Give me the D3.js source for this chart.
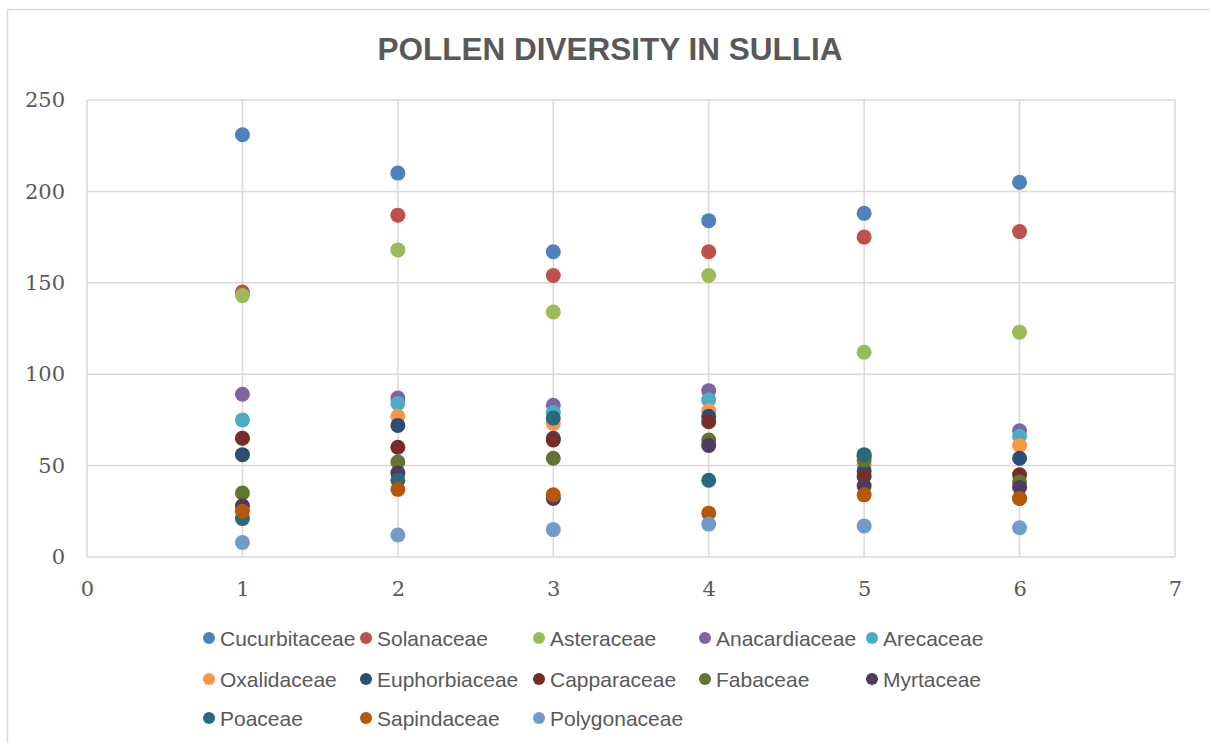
<!DOCTYPE html>
<html>
<head>
<meta charset="utf-8">
<script src="https://cdn.jsdelivr.net/npm/d3@7"></script>
<style>
  html, body { margin: 0; padding: 0; background: #fff; }
  svg { display: block; }
</style>
</head>
<body>
<svg id="chart" width="1210" height="743"></svg>
<script>
// Sampling sites along the x axis
const sites = [1, 2, 3, 4, 5, 6];

// Pollen counts per family at each site
const cucurbitaceae = [231, 210, 167, 184, 188, 205];
const solanaceae    = [145, 187, 154, 167, 175, 178];
const asteraceae    = [143, 168, 134, 154, 112, 123];
const anacardiaceae = [89, 87, 83, 91, 55, 69];
const arecaceae     = [75, 84, 79, 86, 55, 66];
const oxalidaceae   = [65, 77, 73, 80, 50, 61];
const euphorbiaceae = [56, 72, 65, 77, 47, 54];
const capparaceae   = [65, 60, 64, 74, 44, 45];
const fabaceae      = [35, 52, 54, 64, 53, 41];
const myrtaceae     = [28, 46, 32, 61, 39, 38];
const poaceae       = [21, 42, 76, 42, 56, 32];
const sapindaceae   = [25, 37, 34, 24, 34, 32];
const polygonaceae  = [8, 12, 15, 18, 17, 16];

const seriesNames = ["Cucurbitaceae", "Solanaceae", "Asteraceae", "Anacardiaceae", "Arecaceae",
  "Oxalidaceae", "Euphorbiaceae", "Capparaceae", "Fabaceae", "Myrtaceae",
  "Poaceae", "Sapindaceae", "Polygonaceae"];
const seriesValues = [cucurbitaceae, solanaceae, asteraceae, anacardiaceae, arecaceae,
  oxalidaceae, euphorbiaceae, capparaceae, fabaceae, myrtaceae,
  poaceae, sapindaceae, polygonaceae];
const seriesColors = ["#4F81BD", "#C0504D", "#9BBB59", "#8064A2", "#4BACC6",
  "#F79646", "#2C4D75", "#772C2A", "#5F7530", "#4D3B62",
  "#276A7C", "#B65708", "#729ACA"];

const xTicks = [0, 1, 2, 3, 4, 5, 6, 7];
const yTicks = [0, 50, 100, 150, 200, 250];

const series = seriesNames.map((name, i) => ({
  name, color: seriesColors[i],
  points: sites.map((s, j) => ({ x: s, y: seriesValues[i][j] }))
}));

const svg = d3.select("#chart");
const textColor = "#595959";
const gridColor = "#d9d9d9";

// Outer chart frame
svg.append("rect")
  .attr("x", 7.5).attr("y", 9.5).attr("width", 1210).attr("height", 760)
  .attr("fill", "#fff").attr("stroke", "#d9d9d9").attr("stroke-width", 1.5);

// Title
svg.append("text")
  .attr("x", 610).attr("y", 60)
  .attr("text-anchor", "middle")
  .attr("font-family", "Arial, 'Liberation Sans', sans-serif")
  .attr("font-weight", "bold")
  .attr("font-size", 31.5)
  .attr("fill", textColor)
  .text("POLLEN DIVERSITY IN SULLIA");

const plot = { left: 87, right: 1175, top: 100, bottom: 557 };
const x = d3.scaleLinear().domain([0, 7]).range([plot.left, plot.right]);
const y = d3.scaleLinear().domain([0, 250]).range([plot.bottom, plot.top]);

// Gridlines
const grid = svg.append("g");
grid.selectAll("line.h").data(yTicks).join("line")
  .attr("x1", plot.left).attr("x2", plot.right)
  .attr("y1", d => y(d)).attr("y2", d => y(d))
  .attr("stroke", gridColor).attr("stroke-width", 1.5);
grid.selectAll("line.v").data(xTicks).join("line")
  .attr("y1", plot.top).attr("y2", plot.bottom)
  .attr("x1", d => x(d)).attr("x2", d => x(d))
  .attr("stroke", gridColor).attr("stroke-width", 1.5);

// Axes (labels only, lines come from the grid)
const tickFont = "'Century Schoolbook', 'DejaVu Serif', serif";
const yAxis = svg.append("g")
  .attr("transform", `translate(${plot.left},0)`)
  .call(d3.axisLeft(y).tickValues(yTicks).tickFormat(d3.format("d")).tickSize(0).tickPadding(22));
const xAxis = svg.append("g")
  .attr("transform", `translate(0,${plot.bottom})`)
  .call(d3.axisBottom(x).tickValues(xTicks).tickFormat(d3.format("d")).tickSize(0).tickPadding(24));
[xAxis, yAxis].forEach(a => {
  a.select(".domain").remove();
  a.selectAll("text")
    .attr("font-family", tickFont)
    .attr("font-size", 21)
    .attr("fill", textColor);
});

// Points, drawn in series order
const pts = svg.append("g");
series.forEach(s => {
  pts.append("g").selectAll("circle").data(s.points).join("circle")
    .attr("cx", d => x(d.x))
    .attr("cy", d => y(d.y))
    .attr("r", 7.5)
    .attr("fill", s.color);
});

// Legend: three rows
const legendCols = [209, 366, 539, 705, 872];
const legendRows = [638, 679, 718];
const legend = svg.append("g");
series.forEach((s, i) => {
  const cx = legendCols[i % 5];
  const cy = legendRows[Math.floor(i / 5)];
  const g = legend.append("g");
  g.append("circle").attr("cx", cx).attr("cy", cy).attr("r", 6).attr("fill", s.color);
  g.append("text")
    .attr("x", cx + 11).attr("y", cy)
    .attr("dy", "0.36em")
    .attr("font-family", "Arial, 'Liberation Sans', sans-serif")
    .attr("font-size", 21)
    .attr("fill", textColor)
    .text(s.name);
});
</script>
</body>
</html>
